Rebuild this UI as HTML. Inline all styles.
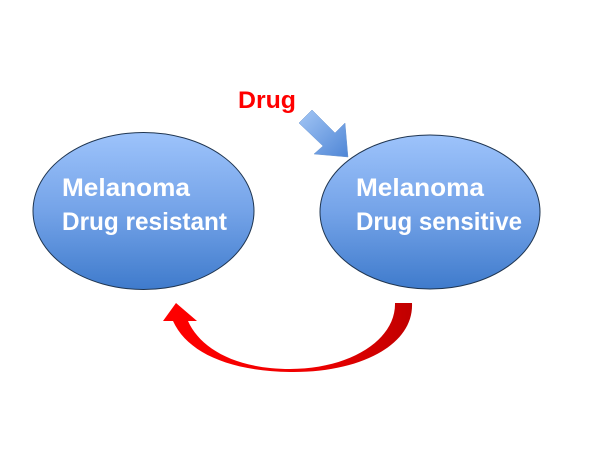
<!DOCTYPE html>
<html><head><style>html,body{margin:0;padding:0;background:#fff;}svg{display:block}</style></head>
<body>
<svg width="600" height="450" viewBox="0 0 600 450" xmlns="http://www.w3.org/2000/svg">
<defs>
<linearGradient id="g" x1="0" y1="0" x2="0" y2="1">
<stop offset="0" stop-color="#9dc3fb"/><stop offset="0.5" stop-color="#74a3e8"/><stop offset="1" stop-color="#3f7bcc"/>
</linearGradient>
<linearGradient id="ba" x1="0" y1="0" x2="1" y2="1">
<stop offset="0" stop-color="#a3c6f5"/><stop offset="1" stop-color="#4f86d6"/>
</linearGradient>
<linearGradient id="ra" x1="0" y1="0" x2="1" y2="0">
<stop offset="0" stop-color="#ff0000"/><stop offset="0.6" stop-color="#ee0000"/><stop offset="1" stop-color="#c00000"/>
</linearGradient>
</defs>
<ellipse cx="143.5" cy="211" rx="110.5" ry="78.5" fill="url(#g)" stroke="#1f3550" stroke-width="1"/>
<ellipse cx="430" cy="212" rx="110" ry="77" fill="url(#g)" stroke="#1f3550" stroke-width="1"/>
<g font-family="Liberation Sans, sans-serif" font-weight="bold" font-size="25" fill="#fff">
<text x="62" y="196" textLength="128" lengthAdjust="spacingAndGlyphs">Melanoma</text>
<text x="62" y="230" textLength="165" lengthAdjust="spacingAndGlyphs">Drug resistant</text>
<text x="356" y="196" textLength="128" lengthAdjust="spacingAndGlyphs">Melanoma</text>
<text x="356" y="230" textLength="166" lengthAdjust="spacingAndGlyphs">Drug sensitive</text>
</g>
<text x="238" y="108" font-family="Liberation Sans, sans-serif" font-weight="bold" font-size="24" fill="#ff0000" textLength="58" lengthAdjust="spacingAndGlyphs">Drug</text>
<polygon points="299,123 312,110 335,133 345,123 348,157 314,154 323,146" fill="url(#ba)" stroke="#6b96d0" stroke-width="0.5"/>
<path d="M412,303 C414,345 360,373 290,372 C228,371 187,352 173,321 L163,321 L176,303 L197,321 L188,321 C200,348 235,369 290,369 C350,369 396,340 395,303 Z" fill="url(#ra)"/>
</svg>
</body></html>
